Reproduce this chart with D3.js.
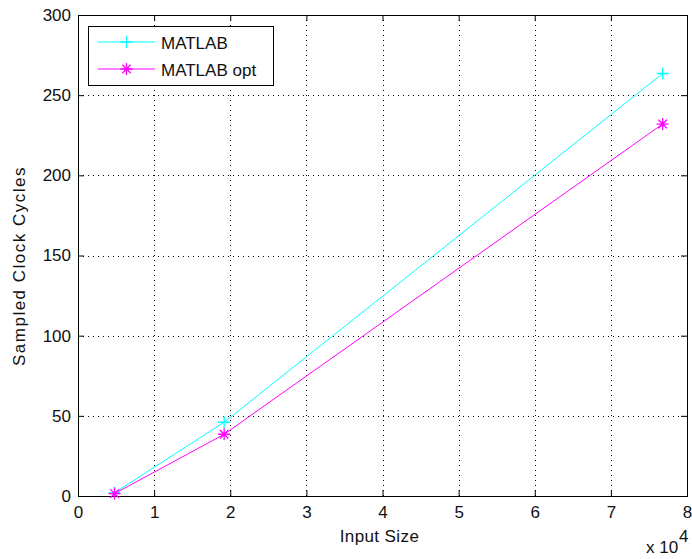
<!DOCTYPE html>
<html>
<head>
<meta charset="utf-8">
<script src="https://cdn.jsdelivr.net/npm/d3@7"></script>
<style>
  body { margin: 0; background: #fff; }
  svg { display: block; }
  text { font-family: "Liberation Sans", Arial, sans-serif; font-size: 17px; fill: #111; }
</style>
</head>
<body>
<div id="chart"></div>
<script>
// values
const inputSize = [4800, 19200, 76800];
const matlab = [2, 46, 263.5];
const matlabOpt = [1.5, 38.5, 232];
const seriesNames = ["MATLAB", "MATLAB opt"];
const xTicks = [0, 10000, 20000, 30000, 40000, 50000, 60000, 70000, 80000];
const yTicks = [0, 50, 100, 150, 200, 250, 300];

const width = 692, height = 559;
const box = { l: 78, r: 687, t: 15, b: 496 };

const svg = d3.select("#chart").append("svg")
  .attr("width", width)
  .attr("height", height);

const x = d3.scaleLinear().domain([0, 80000]).range([box.l, box.r]);
const y = d3.scaleLinear().domain([0, 300]).range([box.b, box.t]);

// dotted grid
const grid = svg.append("g")
  .attr("stroke", "#000")
  .attr("stroke-width", 1)
  .attr("stroke-dasharray", "1,4")
  .attr("shape-rendering", "crispEdges");
grid.selectAll("line.vx")
  .data(xTicks.slice(1, -1))
  .enter().append("line")
  .attr("x1", d => Math.round(x(d)) + 0.5).attr("x2", d => Math.round(x(d)) + 0.5)
  .attr("y1", box.t).attr("y2", box.b);
grid.selectAll("line.hy")
  .data(yTicks.slice(1, -1))
  .enter().append("line")
  .attr("y1", d => Math.round(y(d)) + 0.5).attr("y2", d => Math.round(y(d)) + 0.5)
  .attr("x1", box.l).attr("x2", box.r);

// axes (inward ticks, MATLAB style)
const fmt = d => d / 10000;
const axBottom = svg.append("g")
  .attr("transform", "translate(0," + box.b + ")")
  .call(d3.axisBottom(x).tickValues(xTicks).tickSize(-6).tickPadding(10).tickFormat(fmt));
const axTop = svg.append("g")
  .attr("transform", "translate(0," + box.t + ")")
  .call(d3.axisTop(x).tickValues(xTicks).tickSize(-6).tickFormat(""));
const axLeft = svg.append("g")
  .attr("transform", "translate(" + box.l + ",0)")
  .call(d3.axisLeft(y).tickValues(yTicks).tickSize(-6).tickPadding(7));
const axRight = svg.append("g")
  .attr("transform", "translate(" + box.r + ",0)")
  .call(d3.axisRight(y).tickValues(yTicks).tickSize(-6).tickFormat(""));

[axBottom, axTop, axLeft, axRight].forEach(g => {
  g.select(".domain").remove();
  g.selectAll(".tick line").attr("stroke", "#000");
  g.attr("font-family", null).attr("font-size", null);
});

svg.append("rect")
  .attr("x", box.l + 0.5).attr("y", box.t + 0.5)
  .attr("width", box.r - box.l).attr("height", box.b - box.t)
  .attr("fill", "none").attr("stroke", "#000").attr("stroke-width", 1);

// series
const plus = "M-6,0H6M0,-6V6";
const star = "M-6,0H6M0,-6V6M-4.2,-4.2L4.2,4.2M-4.2,4.2L4.2,-4.2";
const series = [
  { name: seriesNames[0], values: matlab, color: "#00ffff", marker: plus },
  { name: seriesNames[1], values: matlabOpt, color: "#ff00ff", marker: star }
];

const line = d3.line().x(d => x(d[0])).y(d => y(d[1]));

series.forEach(s => {
  const pts = inputSize.map((v, i) => [v, s.values[i]]);
  svg.append("path")
    .datum(pts)
    .attr("d", line)
    .attr("fill", "none")
    .attr("stroke", s.color)
    .attr("stroke-width", 1);
  svg.selectAll(null)
    .data(pts)
    .enter().append("path")
    .attr("transform", d => "translate(" + x(d[0]) + "," + y(d[1]) + ")")
    .attr("d", s.marker)
    .attr("fill", "none")
    .attr("stroke", s.color)
    .attr("stroke-width", 1.3);
});

// legend
const legend = svg.append("g");
legend.append("rect")
  .attr("x", 88.5).attr("y", 26.5)
  .attr("width", 185).attr("height", 59)
  .attr("fill", "#fff").attr("stroke", "#000");
series.forEach((s, i) => {
  const ly = 42 + i * 27;
  legend.append("line")
    .attr("x1", 98).attr("x2", 155).attr("y1", ly).attr("y2", ly)
    .attr("stroke", s.color);
  legend.append("path")
    .attr("transform", "translate(126.5," + ly + ")")
    .attr("d", s.marker)
    .attr("fill", "none").attr("stroke", s.color).attr("stroke-width", 1.3);
  legend.append("text")
    .attr("x", 161).attr("y", ly + 7)
    .attr("font-size", "18px")
    .text(s.name);
});

// labels
svg.append("text")
  .attr("x", (box.l + box.r) / 2 - 3).attr("y", 542)
  .attr("text-anchor", "middle")
  .attr("letter-spacing", "0.4px")
  .text("Input Size");

svg.append("text")
  .attr("transform", "translate(25,266) rotate(-90)")
  .attr("text-anchor", "middle")
  .attr("letter-spacing", "1.5px")
  .text("Sampled Clock Cycles");

svg.append("text")
  .attr("x", 646).attr("y", 553)
  .text("x 10");
svg.append("text")
  .attr("x", 679).attr("y", 541.5)
  .attr("font-size", "16px")
  .text("4");
</script>
</body>
</html>
